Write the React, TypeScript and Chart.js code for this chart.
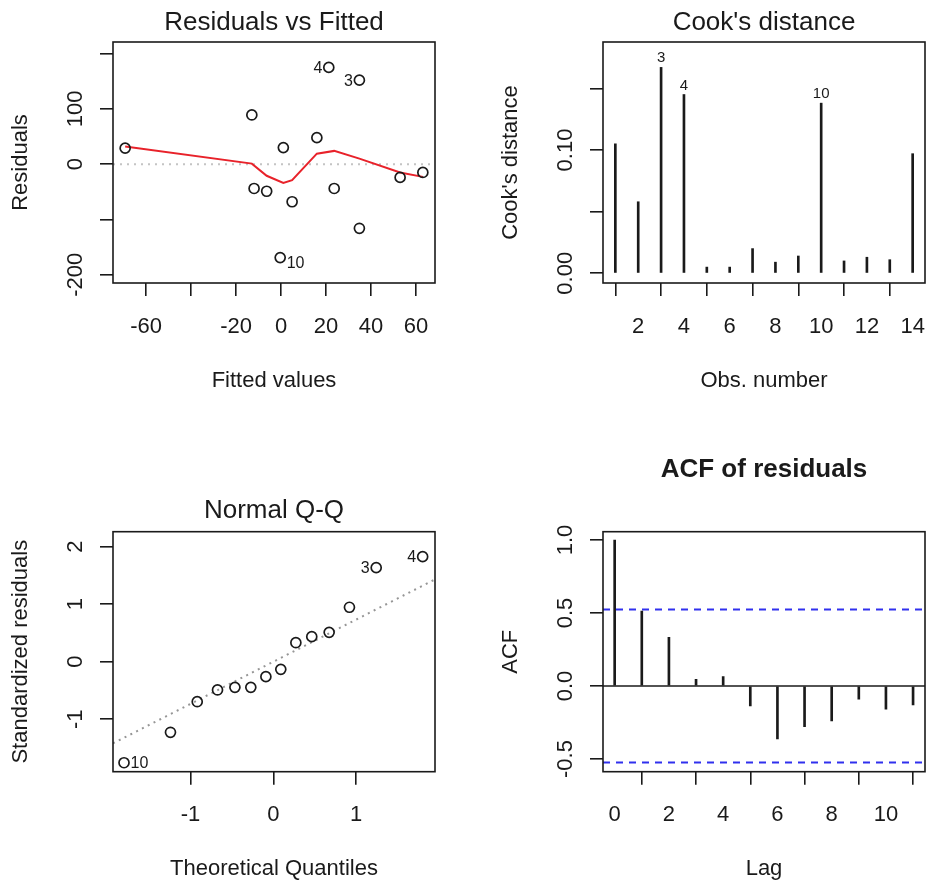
import React, { useEffect, useRef } from 'react';
import { Chart, registerables } from 'chart.js';

Chart.register(...registerables);

const PAGE_W = 927;
const PAGE_H = 882;
const FONT = '"Liberation Sans", Arial, Helvetica, sans-serif';
const INK = '#1a1a1a';
const TICK = 13;

// ---------- Residuals vs Fitted ----------
const fittedValues = [-69.3, -13.0, -12.0, -6.4, 1.0, 4.9, -0.4, 15.9, 21.2, 23.6, 34.8, 34.8, 52.9, 63.0];
const residualValues = [29, 89, -44, -49, 30, -68, -169, 48, 175, -44, 152, -116, -24, -15];
const residualObsLabels = ['', '', '', '', '', '', '10', '', '4', '', '3', '', '', ''];
const lowessFitted = [-69.3, -13.0, -6.4, 1.0, 4.9, 15.9, 23.6, 34.8, 52.9, 63.0];
const lowessResiduals = [32, 1, -21, -34, -29, 19, 24, 10, -15, -23];
const residXTicks = [-60, -40, -20, 0, 20, 40, 60];
const residXTickLabels = ['-60', '', '-20', '0', '20', '40', '60'];
const residYTicks = [-200, -100, 0, 100, 200];
const residYTickLabels = ['-200', '', '0', '100', ''];

// ---------- Cook's distance ----------
const obsNumbers = [1, 2, 3, 4, 5, 6, 7, 8, 9, 10, 11, 12, 13, 14];
const cooksDistance = [0.105, 0.058, 0.167, 0.145, 0.005, 0.005, 0.020, 0.009, 0.014, 0.138, 0.010, 0.013, 0.011, 0.097];
const cooksObsLabels = ['', '', '3', '4', '', '', '', '', '', '10', '', '', '', ''];
const cooksXTicks = [2, 4, 6, 8, 10, 12, 14];
const cooksXTickLabels = ['2', '4', '6', '8', '10', '12', '14'];
const cooksYTicks = [0, 0.05, 0.1, 0.15];
const cooksYTickLabels = ['0.00', '', '0.10', ''];

// ---------- Normal Q-Q ----------
const theoreticalQuantiles = [-1.803, -1.242, -0.919, -0.674, -0.464, -0.272, -0.09, 0.09, 0.272, 0.464, 0.674, 0.919, 1.242, 1.803];
const standardizedResiduals = [-1.757, -1.228, -0.696, -0.492, -0.446, -0.446, -0.261, -0.133, 0.33, 0.435, 0.51, 0.946, 1.635, 1.826];
const qqObsLabels = ['10', '', '', '', '', '', '', '', '', '', '', '', '3', '4'];
const qqLineX = [-1.936, 1.952];
const qqLineY = [-1.42, 1.43];
const qqXTicks = [-1, 0, 1];
const qqXTickLabels = ['-1', '0', '1'];
const qqYTicks = [-1, 0, 1, 2];
const qqYTickLabels = ['-1', '0', '1', '2'];

// ---------- ACF of residuals ----------
const lags = [0, 1, 2, 3, 4, 5, 6, 7, 8, 9, 10, 11];
const acfValues = [1.0, 0.514, 0.333, 0.046, 0.064, -0.137, -0.363, -0.279, -0.24, -0.091, -0.158, -0.13];
const acfConfBound = 0.524;
const acfXTicks = [0, 2, 4, 6, 8, 10];
const acfXTickLabels = ['0', '2', '4', '6', '8', '10'];
const acfYTicks = [-0.5, 0, 0.5, 1.0];
const acfYTickLabels = ['-0.5', '0.0', '0.5', '1.0'];

type PointLabel = { x: number; y: number; text: string; side: 'left' | 'right' | 'above'; size: number; dy?: number };

type PanelCfg = {
  key: string;
  type: 'scatter' | 'bar';
  box: { l: number; t: number; r: number; b: number };
  xRange: [number, number];
  yRange: [number, number];
  xTicks: number[];
  xTickLabels: string[];
  yTicks: number[];
  yTickLabels: string[];
  title: string;
  titleBold?: boolean;
  titleY: number;
  xTitle: string;
  xTitleOffset: number;
  yTitle: string;
  datasets: any[];
  pointLabels: PointLabel[];
};

const pts = (xs: number[], ys: number[]) => xs.map((x, i) => ({ x, y: ys[i] }));

function collectLabels(xs: number[], ys: number[], labels: string[], sideFor: (t: string) => 'left' | 'right' | 'above', size: number, dyFor?: (t: string) => number): PointLabel[] {
  const out: PointLabel[] = [];
  labels.forEach((t, i) => {
    if (t) out.push({ x: xs[i], y: ys[i], text: t, side: sideFor(t), size, dy: dyFor ? dyFor(t) : 0 });
  });
  return out;
}

const circleStyle = {
  pointStyle: 'circle',
  pointRadius: 5,
  pointBorderWidth: 1.7,
  pointBorderColor: INK,
  pointBackgroundColor: 'rgba(0,0,0,0)',
  showLine: false,
};

const panels: PanelCfg[] = [
  {
    key: 'resid',
    type: 'scatter',
    box: { l: 113, t: 42, r: 435, b: 283 },
    xRange: [-74.7, 68.4],
    yRange: [-215, 221],
    xTicks: residXTicks,
    xTickLabels: residXTickLabels,
    yTicks: residYTicks,
    yTickLabels: residYTickLabels,
    title: 'Residuals vs Fitted',
    titleY: 30,
    xTitle: 'Fitted values',
    xTitleOffset: 104,
    yTitle: 'Residuals',
    datasets: [
      { data: pts(fittedValues, residualValues), ...circleStyle },
      { data: pts(lowessFitted, lowessResiduals), showLine: true, borderColor: '#e8222a', borderWidth: 2, pointRadius: 0, tension: 0 },
      { data: [{ x: -74.7, y: 0 }, { x: 68.4, y: 0 }], showLine: true, borderColor: '#c4c4c4', borderWidth: 2, borderDash: [2, 5], pointRadius: 0 },
    ],
    pointLabels: collectLabels(fittedValues, residualValues, residualObsLabels, (t) => (t === '10' ? 'right' : 'left'), 16, (t) => (t === '10' ? 5 : 0)),
  },
  {
    key: 'cook',
    type: 'bar',
    box: { l: 603, t: 42, r: 925, b: 283 },
    xRange: [0.46, 14.54],
    yRange: [-0.0079, 0.1876],
    xTicks: cooksXTicks,
    xTickLabels: cooksXTickLabels,
    yTicks: cooksYTicks,
    yTickLabels: cooksYTickLabels,
    title: "Cook's distance",
    titleY: 30,
    xTitle: 'Obs. number',
    xTitleOffset: 104,
    yTitle: "Cook's distance",
    datasets: [
      { data: pts(obsNumbers, cooksDistance), backgroundColor: INK, borderWidth: 0, barThickness: 2 },
    ],
    pointLabels: collectLabels(obsNumbers, cooksDistance, cooksObsLabels, () => 'above', 15),
  },
  {
    key: 'qq',
    type: 'scatter',
    box: { l: 113, t: 531.7, r: 435, b: 771.7 },
    xRange: [-1.936, 1.952],
    yRange: [-1.913, 2.26],
    xTicks: qqXTicks,
    xTickLabels: qqXTickLabels,
    yTicks: qqYTicks,
    yTickLabels: qqYTickLabels,
    title: 'Normal Q-Q',
    titleY: 518,
    xTitle: 'Theoretical Quantiles',
    xTitleOffset: 103.5,
    yTitle: 'Standardized residuals',
    datasets: [
      { data: pts(theoreticalQuantiles, standardizedResiduals), ...circleStyle },
      { data: pts(qqLineX, qqLineY), showLine: true, borderColor: '#969696', borderWidth: 2, borderDash: [2, 4.5], pointRadius: 0 },
    ],
    pointLabels: collectLabels(theoreticalQuantiles, standardizedResiduals, qqObsLabels, (t) => (t === '10' ? 'right' : 'left'), 16),
  },
  {
    key: 'acf',
    type: 'bar',
    box: { l: 603, t: 531.7, r: 925, b: 771.7 },
    xRange: [-0.43, 11.44],
    yRange: [-0.587, 1.057],
    xTicks: acfXTicks,
    xTickLabels: acfXTickLabels,
    yTicks: acfYTicks,
    yTickLabels: acfYTickLabels,
    title: 'ACF of residuals',
    titleBold: true,
    titleY: 476.7,
    xTitle: 'Lag',
    xTitleOffset: 103.5,
    yTitle: 'ACF',
    datasets: [
      { data: pts(lags, acfValues), backgroundColor: INK, borderWidth: 0, barThickness: 2 },
      { type: 'line', data: [{ x: -0.43, y: 0 }, { x: 11.44, y: 0 }], borderColor: INK, borderWidth: 1.6, pointRadius: 0 },
      { type: 'line', data: [{ x: -0.43, y: acfConfBound }, { x: 11.44, y: acfConfBound }], borderColor: '#3030ee', borderWidth: 2, borderDash: [7, 6], pointRadius: 0 },
      { type: 'line', data: [{ x: -0.43, y: -acfConfBound }, { x: 11.44, y: -acfConfBound }], borderColor: '#3030ee', borderWidth: 2, borderDash: [7, 6], pointRadius: 0 },
    ],
    pointLabels: [],
  },
];

function rPlotPlugin(cfg: PanelCfg) {
  return {
    id: 'rplot-' + cfg.key,
    afterDraw(chart: any) {
      const ctx: CanvasRenderingContext2D = chart.ctx;
      const xs = chart.scales.x;
      const ys = chart.scales.y;
      const a = chart.chartArea;
      ctx.save();
      // box
      ctx.strokeStyle = INK;
      ctx.lineWidth = 1.6;
      ctx.setLineDash([]);
      ctx.strokeRect(a.left, a.top, a.right - a.left, a.bottom - a.top);

      ctx.fillStyle = INK;
      // x tick labels
      ctx.font = `22px ${FONT}`;
      ctx.textAlign = 'center';
      ctx.textBaseline = 'alphabetic';
      cfg.xTicks.forEach((v, i) => {
        const t = cfg.xTickLabels[i];
        if (t) ctx.fillText(t, xs.getPixelForValue(v), a.bottom + 49.5);
      });
      // y tick labels (rotated, parallel to axis)
      cfg.yTicks.forEach((v, i) => {
        const t = cfg.yTickLabels[i];
        if (!t) return;
        ctx.save();
        ctx.translate(a.left - 31, ys.getPixelForValue(v));
        ctx.rotate(-Math.PI / 2);
        ctx.fillText(t, 0, 0);
        ctx.restore();
      });
      // axis titles
      ctx.fillText(cfg.xTitle, (a.left + a.right) / 2, a.bottom + cfg.xTitleOffset);
      ctx.save();
      ctx.translate(a.left - 86, (a.top + a.bottom) / 2);
      ctx.rotate(-Math.PI / 2);
      ctx.fillText(cfg.yTitle, 0, 0);
      ctx.restore();
      // main title
      ctx.font = `${cfg.titleBold ? 'bold ' : ''}26px ${FONT}`;
      ctx.fillText(cfg.title, (a.left + a.right) / 2, cfg.titleY);
      // point labels
      cfg.pointLabels.forEach((p) => {
        ctx.font = `${p.size}px ${FONT}`;
        const px = xs.getPixelForValue(p.x);
        const py = ys.getPixelForValue(p.y);
        const mid = py + p.size * 0.358 + (p.dy || 0);
        if (p.side === 'left') {
          ctx.textAlign = 'right';
          ctx.fillText(p.text, px - 6.5, mid);
        } else if (p.side === 'right') {
          ctx.textAlign = 'left';
          ctx.fillText(p.text, px + 6.5, mid);
        } else {
          ctx.textAlign = 'center';
          ctx.fillText(p.text, px, py - 5);
        }
      });
      ctx.restore();
    },
  };
}

function buildConfig(cfg: PanelCfg): any {
  const { box } = cfg;
  const axisCommon = {
    type: 'linear',
    bounds: 'data',
    offset: false,
    grid: { display: true, drawOnChartArea: false, drawTicks: true, tickLength: TICK, color: INK, lineWidth: 1.6 },
    border: { display: false },
    ticks: { display: false },
  };
  return {
    type: cfg.type,
    data: { datasets: cfg.datasets },
    options: {
      responsive: false,
      animation: false,
      devicePixelRatio: 1,
      events: [],
      layout: {
        padding: { left: box.l - TICK, top: box.t, right: PAGE_W - box.r, bottom: PAGE_H - box.b - TICK },
      },
      plugins: { legend: { display: false }, tooltip: { enabled: false }, title: { display: false } },
      scales: {
        x: {
          ...axisCommon,
          position: 'bottom',
          min: cfg.xRange[0],
          max: cfg.xRange[1],
          afterBuildTicks: (s: any) => {
            s.ticks = cfg.xTicks.map((v) => ({ value: v }));
          },
          afterFit: (s: any) => {
            s.height = TICK;
          },
        },
        y: {
          ...axisCommon,
          position: 'left',
          min: cfg.yRange[0],
          max: cfg.yRange[1],
          afterBuildTicks: (s: any) => {
            s.ticks = cfg.yTicks.map((v) => ({ value: v }));
          },
          afterFit: (s: any) => {
            s.width = TICK;
          },
        },
      },
    },
    plugins: [rPlotPlugin(cfg)],
  };
}

function Panel({ cfg }: { cfg: PanelCfg }) {
  const ref = useRef<HTMLCanvasElement>(null);
  useEffect(() => {
    if (!ref.current) return;
    const chart = new Chart(ref.current, buildConfig(cfg));
    return () => chart.destroy();
  }, [cfg]);
  return (
    <canvas
      ref={ref}
      width={PAGE_W}
      height={PAGE_H}
      style={{ position: 'absolute', left: 0, top: 0, width: PAGE_W, height: PAGE_H }}
    />
  );
}

export default function App() {
  return (
    <div style={{ position: 'fixed', left: 0, top: 0, width: PAGE_W, height: PAGE_H, background: '#ffffff', overflow: 'hidden' }}>
      {panels.map((p) => (
        <Panel key={p.key} cfg={p} />
      ))}
    </div>
  );
}
